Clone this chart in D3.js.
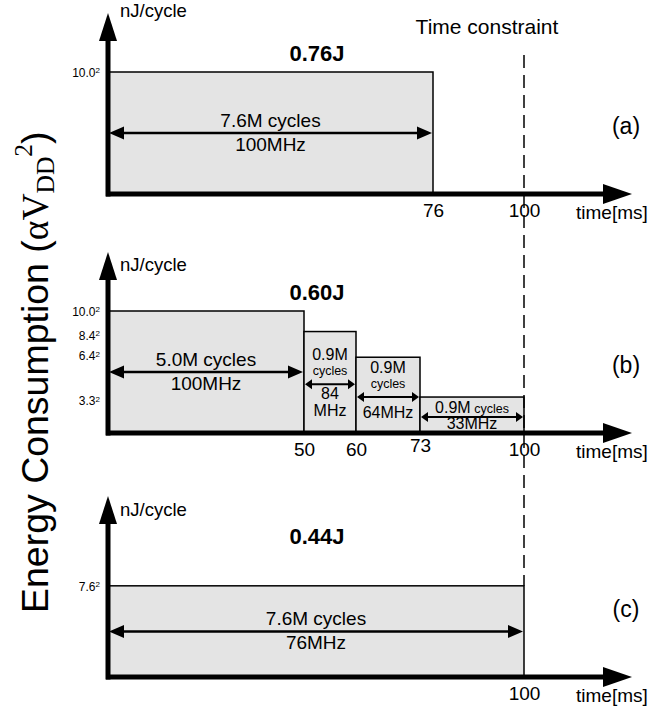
<!DOCTYPE html>
<html>
<head>
<meta charset="utf-8">
<script src="https://cdn.jsdelivr.net/npm/d3@7/dist/d3.min.js"></script>
<style>
body { margin: 0; background: #fff; }
text { font-family: "Liberation Sans", Arial, Helvetica, sans-serif; fill: #000; }
.serif { font-family: "Liberation Serif", "Times New Roman", serif; }
</style>
</head>
<body>
<svg id="chart" width="672" height="709"></svg>
<script>
// ---- data ----
var panelNames = ["(a)", "(b)", "(c)"];
var panelEnergy = ["0.76J", "0.60J", "0.44J"];

// (a) run at full speed then idle
var startA = [0];
var endA = [76];
var voltA = [10.0];
var cyclesA = ["7.6M cycles"];
var freqA = ["100MHz"];
var ticksA = [76, 100];

// (b) step the voltage down in stages
var startB = [0, 50, 60, 73];
var endB = [50, 60, 73, 100];
var voltB = [10.0, 8.4, 6.4, 3.3];
var cyclesB = ["5.0M cycles", "0.9M|cycles", "0.9M|cycles", "0.9M cycles"];
var freqB = ["100MHz", "84|MHz", "64MHz", "33MHz"];
var ticksB = [50, 60, 73, 100];

// (c) one low voltage for the whole interval
var startC = [0];
var endC = [100];
var voltC = [7.6];
var cyclesC = ["7.6M cycles"];
var freqC = ["76MHz"];
var ticksC = [100];

var deadline = 100;

var panels = [
    { start: startA, end: endA, volt: voltA, cycles: cyclesA, freq: freqA, ticks: ticksA },
    { start: startB, end: endB, volt: voltB, cycles: cyclesB, freq: freqB, ticks: ticksB },
    { start: startC, end: endC, volt: voltC, cycles: cyclesC, freq: freqC, ticks: ticksC }
];

// ---- layout ----
var svg = d3.select("#chart");
var bases = [194, 433, 677];     // y of each time axis
var axisH = 181;
var unitDy = [4, 19, 20];        // "nJ/cycle" baseline below the arrow tip

// the drawing is a sketch, time is not to scale: piecewise scale
var x = d3.scaleLinear()
    .domain([0, 50, 60, 73, 76, 100])
    .range([108, 304, 356, 420, 433, 524]);

var fmtV = d3.format(".1f");

function doubleArrow(g, x1, x2, y, len, half, sw) {
    g.append("line")
        .attr("x1", x1 + len - 1).attr("x2", x2 - len + 1)
        .attr("y1", y).attr("y2", y)
        .attr("stroke", "#000").attr("stroke-width", sw);
    g.append("path")
        .attr("d", "M" + x1 + "," + y + "L" + (x1 + len) + "," + (y - half) + "L" + (x1 + len) + "," + (y + half) + "Z")
        .attr("fill", "#000");
    g.append("path")
        .attr("d", "M" + x2 + "," + y + "L" + (x2 - len) + "," + (y - half) + "L" + (x2 - len) + "," + (y + half) + "Z")
        .attr("fill", "#000");
}

// writes "0.9M cycles" with a smaller "cycles" in the narrow boxes
function labelLine(g, cx, y, str, big) {
    var t = g.append("text").attr("x", cx).attr("y", y).attr("text-anchor", "middle");
    if (big) {
        t.style("font-size", "19px").text(str);
        return;
    }
    var parts = str.split(" ");
    if (parts.length == 1 && parts[0] == "cycles") {
        t.style("font-size", "12.5px").text(str);
        return;
    }
    t.append("tspan").style("font-size", "16px").text(parts[0]);
    if (parts.length > 1) {
        t.append("tspan").style("font-size", "12.5px").text(" " + parts.slice(1).join(" "));
    }
}

panels.forEach(function (p, k) {
    var base = bases[k];
    var g = svg.append("g").attr("class", "panel");
    var y = d3.scaleLinear().domain([0.5, 10]).range([base, base - 122]);

    // boxes
    p.start.forEach(function (s, i) {
        var x0 = x(s), x1 = x(p.end[i]), top = y(p.volt[i]);
        g.append("rect")
            .attr("x", x0).attr("y", top)
            .attr("width", x1 - x0).attr("height", base - top)
            .attr("fill", "#e4e4e4").attr("stroke", "#000").attr("stroke-width", 1.5);

        var big = (x1 - x0) > 150;
        var h = base - top;
        var mid = (top + base) / 2 + (big ? 0 : 2);
        var cx = (x0 + x1) / 2;
        var up = p.cycles[i].split("|");
        var down = p.freq[i].split("|");

        if (big) {
            doubleArrow(g, x0 + 1, x1 - 1, mid, 15, 6.5, 2.5);
            labelLine(g, cx, mid - 6, up[0], true);
            labelLine(g, cx, mid + 18, down[0], true);
        } else if (h < 45) {
            doubleArrow(g, x0 + 1, x1 - 1, mid, 7, 5, 2);
            labelLine(g, cx, mid - 4, up[0], false);
            g.append("text").attr("x", cx).attr("y", mid + 12)
                .attr("text-anchor", "middle").style("font-size", "16px").text(down[0]);
        } else {
            doubleArrow(g, x0 + 1, x1 - 1, mid, 7, 5, 2);
            up.slice().reverse().forEach(function (s2, j) {
                labelLine(g, cx, mid - 9 - j * 15, s2, false);
            });
            var d0 = down.length > 1 ? 15 : 21;
            down.forEach(function (s2, j) {
                g.append("text").attr("x", cx).attr("y", mid + d0 + j * 17)
                    .attr("text-anchor", "middle").style("font-size", "16px").text(s2);
            });
        }
    });

    // voltage ticks, labelled as V^2
    var yAxis = d3.axisLeft(y).tickValues(p.volt).tickSize(0).tickPadding(8);
    var ya = g.append("g").attr("transform", "translate(108,0)").call(yAxis);
    ya.select(".domain").remove();
    ya.selectAll("text").each(function (v) {
        var t = d3.select(this);
        t.text(null).attr("font-family", null).style("font-size", "12px").attr("dy", "0.35em");
        t.append("tspan").text(fmtV(v));
        t.append("tspan").attr("dy", "-0.45em").style("font-size", "8px").text("2");
    });
    ya.selectAll(".tick").filter(function (v) { return k == 1 && v == 6.4; })
        .attr("transform", "translate(0," + (y(6.4) - 1) + ")");
    ya.selectAll(".tick").filter(function (v) { return k == 1 && v == 8.4; })
        .attr("transform", "translate(0," + (y(8.4) + 4) + ")");
    ya.selectAll(".tick").filter(function (v) { return k == 1 && v == 3.3; })
        .attr("transform", "translate(0," + (y(3.3) + 4) + ")");

    // time ticks
    var xAxis = d3.axisBottom(x).tickValues(p.ticks).tickSize(0).tickPadding(10);
    var xa = g.append("g").attr("transform", "translate(0," + base + ")").call(xAxis);
    xa.select(".domain").remove();
    xa.selectAll("text").attr("font-family", null).style("font-size", "19px")
        .attr("dy", function (v) { return v == 73 ? "0.45em" : "0.71em"; });

    // thick axes with arrow heads
    var tip = base - axisH;
    g.append("line").attr("x1", 108).attr("x2", 108).attr("y1", base + 2.5).attr("y2", tip + 26)
        .attr("stroke", "#000").attr("stroke-width", 5);
    g.append("path")
        .attr("d", "M108," + tip + "L99," + (tip + 28) + "L117," + (tip + 28) + "Z").attr("fill", "#000");
    g.append("line").attr("x1", 106).attr("x2", 606).attr("y1", base).attr("y2", base)
        .attr("stroke", "#000").attr("stroke-width", 5);
    g.append("path")
        .attr("d", "M632," + base + "L603," + (base - 10) + "L603," + (base + 10) + "Z").attr("fill", "#000");

    g.append("text").attr("x", 120).attr("y", tip + unitDy[k]).style("font-size", "18.5px").text("nJ/cycle");
    g.append("text").attr("x", 576).attr("y", base + 25).style("font-size", "19px").text("time[ms]");
    g.append("text").attr("x", 317).attr("y", base - 133).attr("text-anchor", "middle")
        .style("font-size", "22px").style("font-weight", "bold").text(panelEnergy[k]);
    g.append("text").attr("x", 626).attr("y", base - 60).attr("text-anchor", "middle")
        .style("font-size", "23px").text(panelNames[k]);
});

// time constraint
var yC = d3.scaleLinear().domain([0.5, 10]).range([bases[2], bases[2] - 122]);
svg.append("line")
    .attr("x1", x(deadline)).attr("x2", x(deadline))
    .attr("y1", 55).attr("y2", yC(voltC[0]))
    .attr("stroke", "#000").attr("stroke-width", 1.5).attr("stroke-dasharray", "13,7");
svg.append("text").attr("x", 487).attr("y", 34).attr("text-anchor", "middle")
    .style("font-size", "21px").text("Time constraint");

// y title: the sans part should run from y=613 up to about y=240
var fs = 38;
var title = svg.append("text").attr("transform", "translate(48,613) rotate(-90)")
    .style("font-size", fs + "px");
var lead = title.append("tspan").text("Energy Consumption (");
var len = lead.node().getComputedTextLength();
if (len > 0) {
    fs = fs * 373 / len;
    title.style("font-size", fs + "px");
}
title.append("tspan").attr("class", "serif").text("\u03B1V");
title.append("tspan").attr("class", "serif").attr("dy", fs * 0.16).style("font-size", (fs * 0.68) + "px").text("DD");
title.append("tspan").attr("class", "serif").attr("dy", -fs * 0.58).style("font-size", (fs * 0.68) + "px").text("2");
title.append("tspan").attr("dy", fs * 0.42).text(")");
</script>
</body>
</html>
